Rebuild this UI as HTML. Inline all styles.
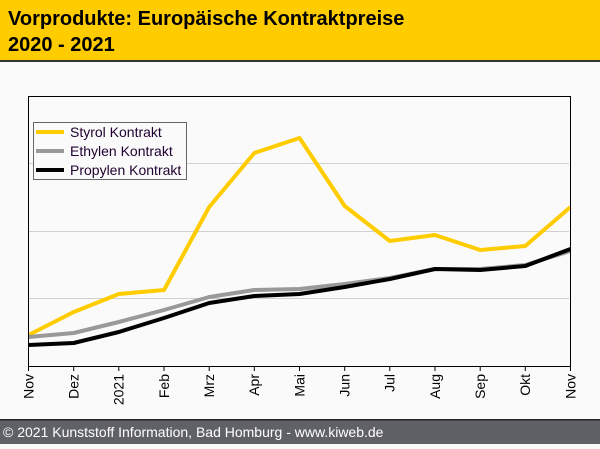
<!DOCTYPE html>
<html><head><meta charset="utf-8"><style>
body{margin:0;width:600px;height:444px;overflow:hidden;background:#fafafa;font-family:"Liberation Sans",sans-serif}
</style></head><body>
<svg width="600" height="444" xmlns="http://www.w3.org/2000/svg" font-family="Liberation Sans, sans-serif">
<rect width="600" height="444" fill="#fafafa"/>
<rect width="600" height="60" fill="#ffcc00"/>
<rect y="60" width="600" height="2" fill="#333"/>
<text x="8" y="25" font-size="20" font-weight="bold" fill="#000">Vorprodukte: Europäische Kontraktpreise</text>
<text x="8" y="51" font-size="20" font-weight="bold" fill="#000">2020 - 2021</text>
<g stroke="#d0d0d0" stroke-width="1">
<line x1="29" y1="163.5" x2="569" y2="163.5"/><line x1="29" y1="231.5" x2="569" y2="231.5"/><line x1="29" y1="298.5" x2="569" y2="298.5"/>
</g>
<g fill="none" stroke-width="4" stroke-linejoin="round">
<polyline stroke="#ffcc00" points="28.5,335 73.7,312 118.8,294 164,290 209.2,207 254.3,153 299.5,138 344.7,206 389.8,241 435,235 480.2,250 525.3,246 570.5,207"/>
<polyline stroke="#999" points="28.5,337 73.7,333 118.8,322 164,310 209.2,297 254.3,290 299.5,289 344.7,284 389.8,278 435,269 480.2,269 525.3,265 570.5,251"/>
<polyline stroke="#000" points="28.5,345 73.7,343 118.8,332 164,318 209.2,303 254.3,296 299.5,294 344.7,287 389.8,279 435,269 480.2,270 525.3,266 570.5,249"/>
</g>
<rect x="28.5" y="96.5" width="542" height="270" fill="none" stroke="#000" stroke-width="1"/>
<g stroke="#000" stroke-width="1">
<line x1="28.5" y1="366" x2="28.5" y2="371"/><line x1="73.7" y1="366" x2="73.7" y2="371"/><line x1="118.8" y1="366" x2="118.8" y2="371"/><line x1="164" y1="366" x2="164" y2="371"/><line x1="209.2" y1="366" x2="209.2" y2="371"/><line x1="254.3" y1="366" x2="254.3" y2="371"/><line x1="299.5" y1="366" x2="299.5" y2="371"/><line x1="344.7" y1="366" x2="344.7" y2="371"/><line x1="389.8" y1="366" x2="389.8" y2="371"/><line x1="435" y1="366" x2="435" y2="371"/><line x1="480.2" y1="366" x2="480.2" y2="371"/><line x1="525.3" y1="366" x2="525.3" y2="371"/><line x1="570.5" y1="366" x2="570.5" y2="371"/>
</g>
<g font-size="14" fill="#000" text-anchor="end">
<text transform="translate(33.5,374) rotate(-90)">Nov</text>
<text transform="translate(78.5,374) rotate(-90)">Dez</text>
<text transform="translate(123.5,374) rotate(-90)">2021</text>
<text transform="translate(169,374) rotate(-90)">Feb</text>
<text transform="translate(214,374) rotate(-90)">Mrz</text>
<text transform="translate(259,374) rotate(-90)">Apr</text>
<text transform="translate(304.5,374) rotate(-90)">Mai</text>
<text transform="translate(349.5,374) rotate(-90)">Jun</text>
<text transform="translate(394.5,374) rotate(-90)">Jul</text>
<text transform="translate(440,374) rotate(-90)">Aug</text>
<text transform="translate(485,374) rotate(-90)">Sep</text>
<text transform="translate(530,374) rotate(-90)">Okt</text>
<text transform="translate(575.5,374) rotate(-90)">Nov</text>
</g>
<rect x="33.5" y="122.5" width="153" height="57" fill="#fafafa" stroke="#666" stroke-width="1"/>
<g stroke-width="4"><line x1="36" y1="132" x2="64" y2="132" stroke="#ffcc00"/><line x1="36" y1="151" x2="64" y2="151" stroke="#999"/><line x1="36" y1="170" x2="64" y2="170" stroke="#000"/></g>
<g font-size="14" fill="#200030">
<text x="70" y="137">Styrol Kontrakt</text><text x="70" y="156">Ethylen Kontrakt</text><text x="70" y="175">Propylen Kontrakt</text>
</g>
<rect y="419" width="600" height="25" fill="#606166"/>
<rect y="419" width="600" height="1.5" fill="#222"/>
<text x="3" y="437" font-size="14" fill="#fff">© 2021 Kunststoff Information, Bad Homburg - www.kiweb.de</text>
</svg>
</body></html>
